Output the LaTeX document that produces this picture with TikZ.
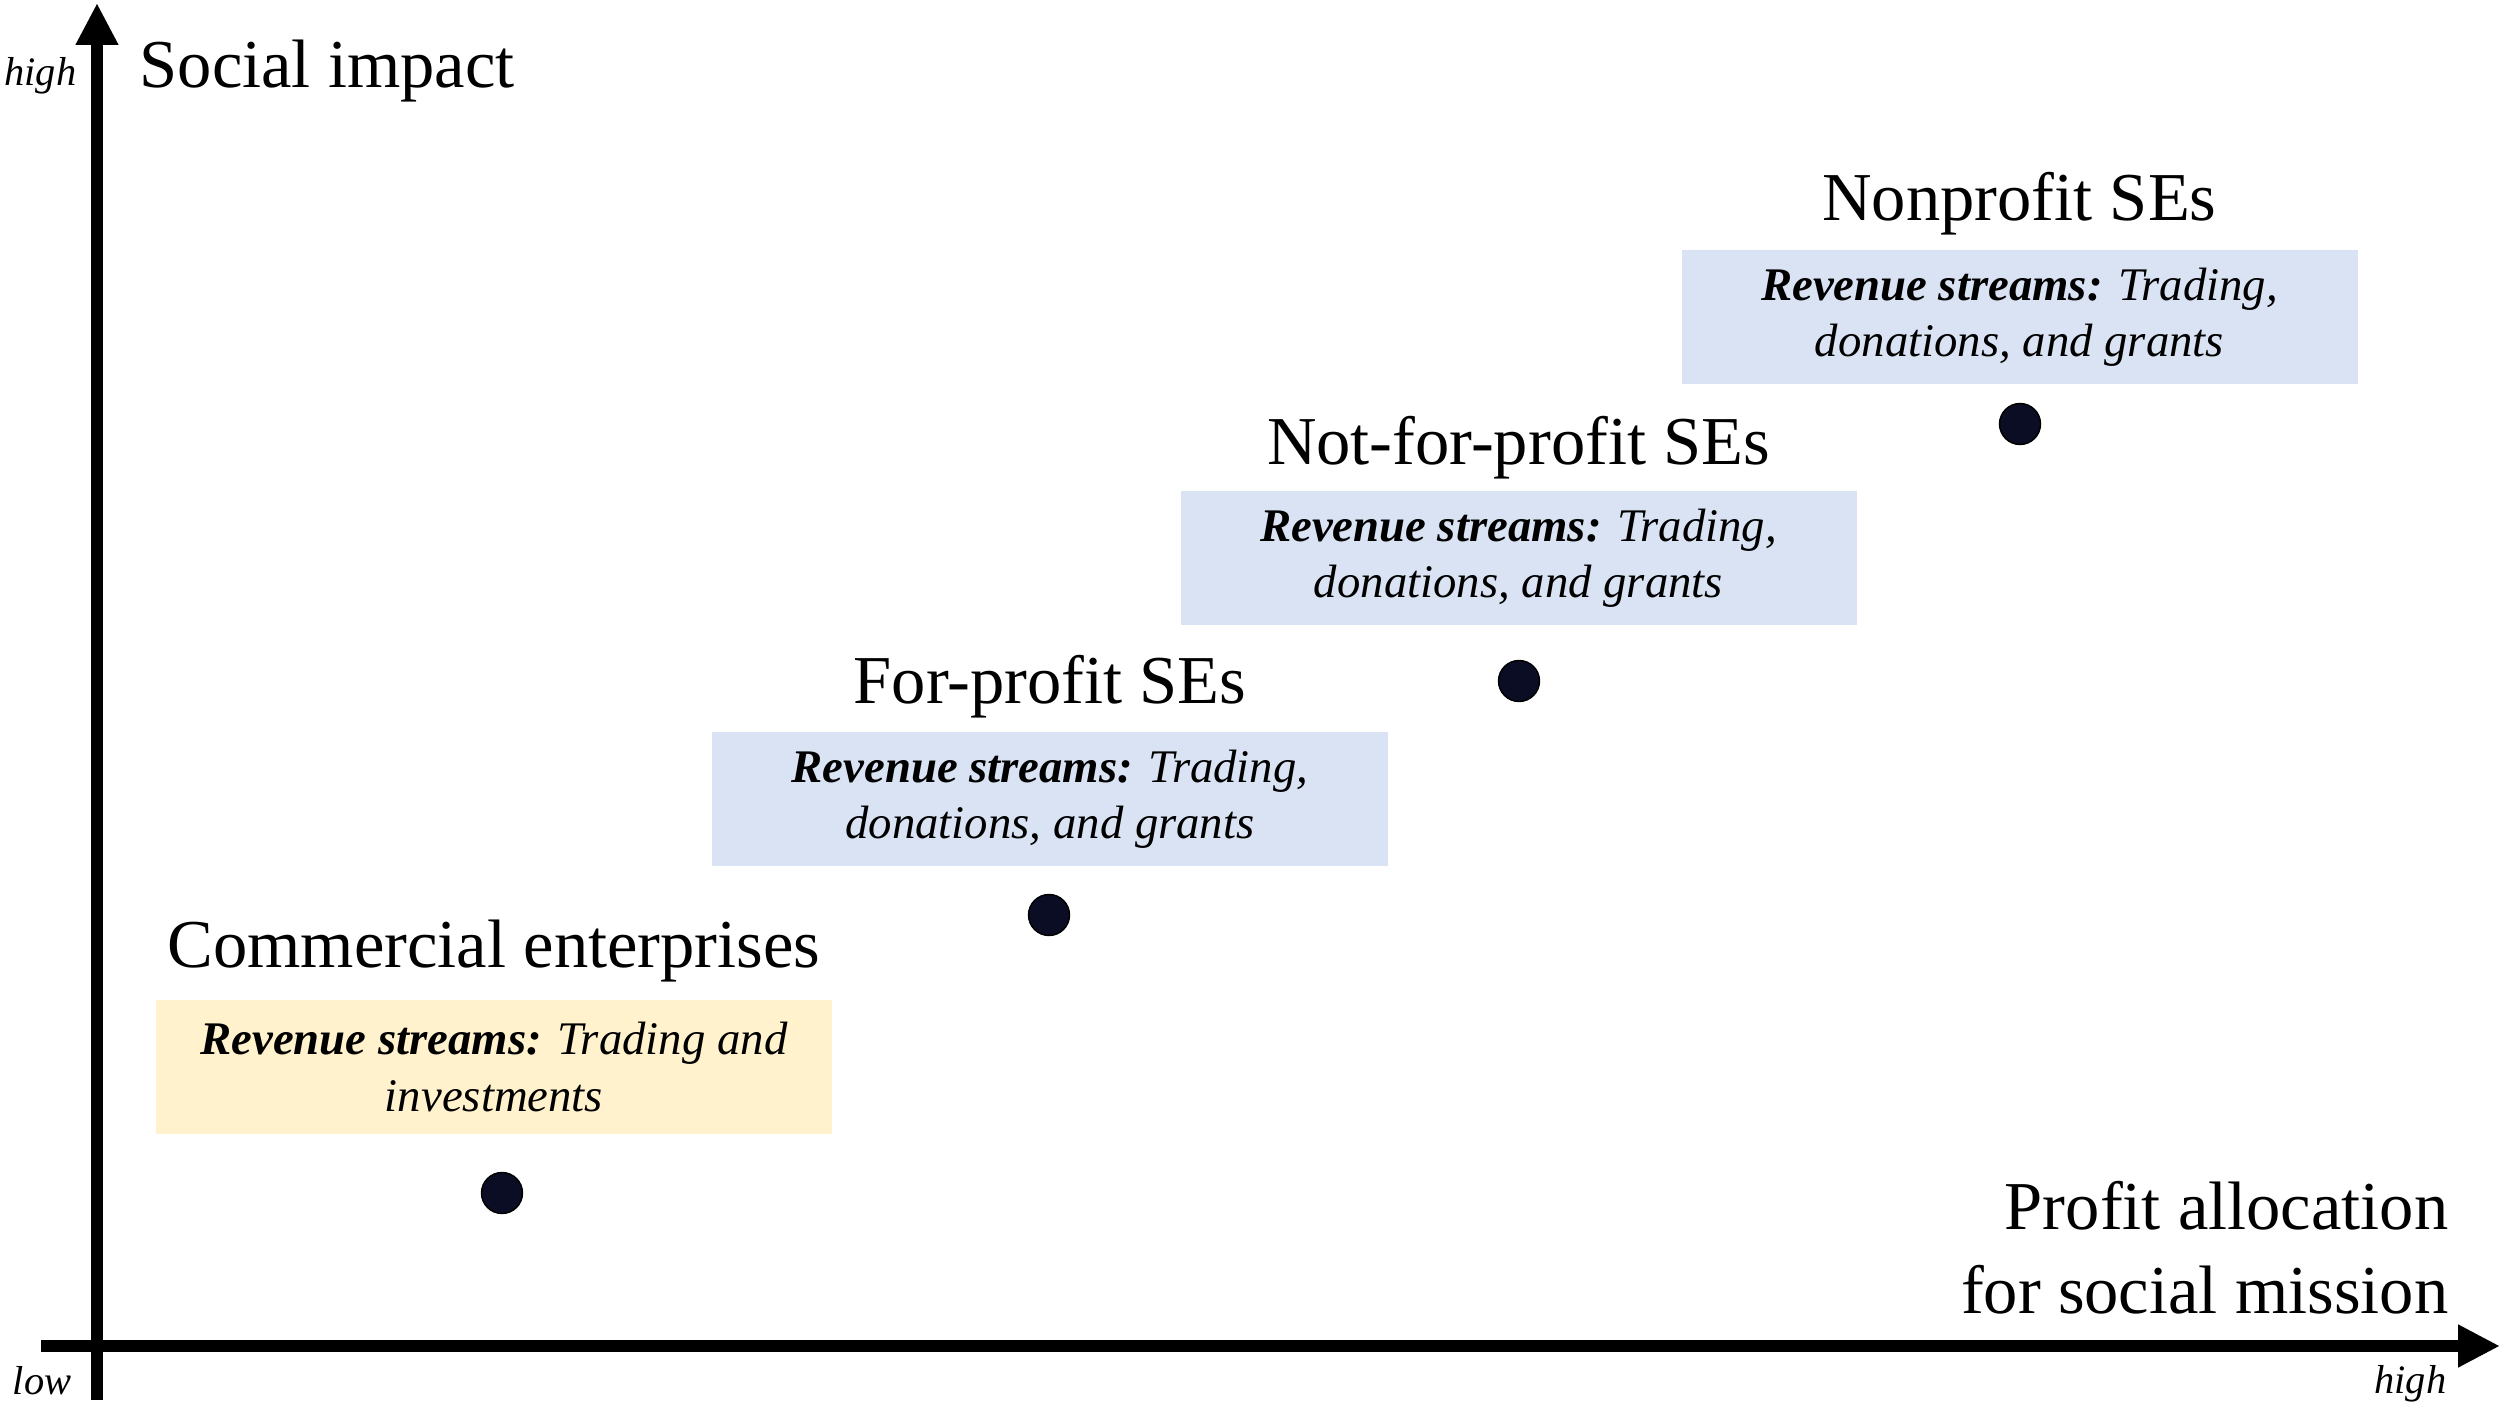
\documentclass[tikz,border=0pt]{standalone}
\usepackage{fontspec}
\setmainfont{Liberation Serif}
\usepackage{tikz}
\usetikzlibrary{arrows.meta,positioning}
\definecolor{paleblue}{HTML}{DAE3F3}
\definecolor{paleyellow}{HTML}{FFF2CC}
\definecolor{navy}{HTML}{0B0D24}

\begin{document}
\begin{tikzpicture}[
 axis/.style={line width=3.5pt,-{Triangle[length=0.42cm,width=0.4cm]}},
 revbox/.style={fill=paleblue,align=center,minimum width=6.76cm,minimum height=1.34cm,
 inner sep=0pt,font=\fontsize{13.3pt}{16pt}\selectfont\itshape},
 ttl/.style={inner sep=0pt,text depth=0pt,font=\fontsize{19.5pt}{24pt}\selectfont},
 dot/.style={circle,fill=navy,draw=black,thin,minimum size=0.41cm,inner sep=0pt},
 endlabel/.style={inner sep=0pt,font=\fontsize{11.5pt}{13pt}\selectfont\itshape},
 node distance=0.28cm]
\useasboundingbox (0,0) rectangle (25,14.11);
% axes
\coordinate (xstart) at (0.41,0.65);
\coordinate (xend) at (25,0.65);
\coordinate (ystart) at (0.97,0.11);
\coordinate (yend) at (0.97,14.08);
\draw[axis] (xstart)--(xend);
\draw[axis] (ystart)--(yend);
\node[endlabel,anchor=base east] (ylow) at (0.72,0.17) {low};
\node[endlabel,anchor=base east] (yhigh) at (0.77,13.25) {high};
\node[endlabel,anchor=base east] (xhigh) at (24.47,0.18) {high};
\node[ttl,anchor=base west] (ylabel) at (1.39,13.23) {Social impact};
\node[ttl,text depth=,align=right,anchor=east] (xlabel) at (24.49,1.63)
 {Profit allocation\\for social mission};
% the four kinds of enterprise
\node[dot] (cedot) at (5.02,2.18) {};
\node[dot] (fpdot) at (10.49,4.96) {};
\node[dot] (nfpdot) at (15.19,7.30) {};
\node[dot] (npdot) at (20.20,9.87) {};
\node[revbox,fill=paleyellow] (cebox) at (4.94,3.44)
 {\textbf{Revenue streams:} Trading and\\investments};
\node[revbox] (fpbox) at (10.50,6.115)
 {\textbf{Revenue streams:} Trading,\\donations, and grants};
\node[revbox] (nfpbox) at (15.185,8.53)
 {\textbf{Revenue streams:} Trading,\\donations, and grants};
\node[revbox] (npbox) at (20.195,10.94)
 {\textbf{Revenue streams:} Trading,\\donations, and grants};
\node[ttl,above=0.31cm of cebox] (cettl) {Commercial enterprises};
\node[ttl,above=of fpbox] (fpttl) {For-profit SEs};
\node[ttl,above=0.25cm of nfpbox] (nfpttl) {Not-for-profit SEs};
\node[ttl,above=of npbox] (npttl) {Nonprofit SEs};
\end{tikzpicture}
\end{document}
